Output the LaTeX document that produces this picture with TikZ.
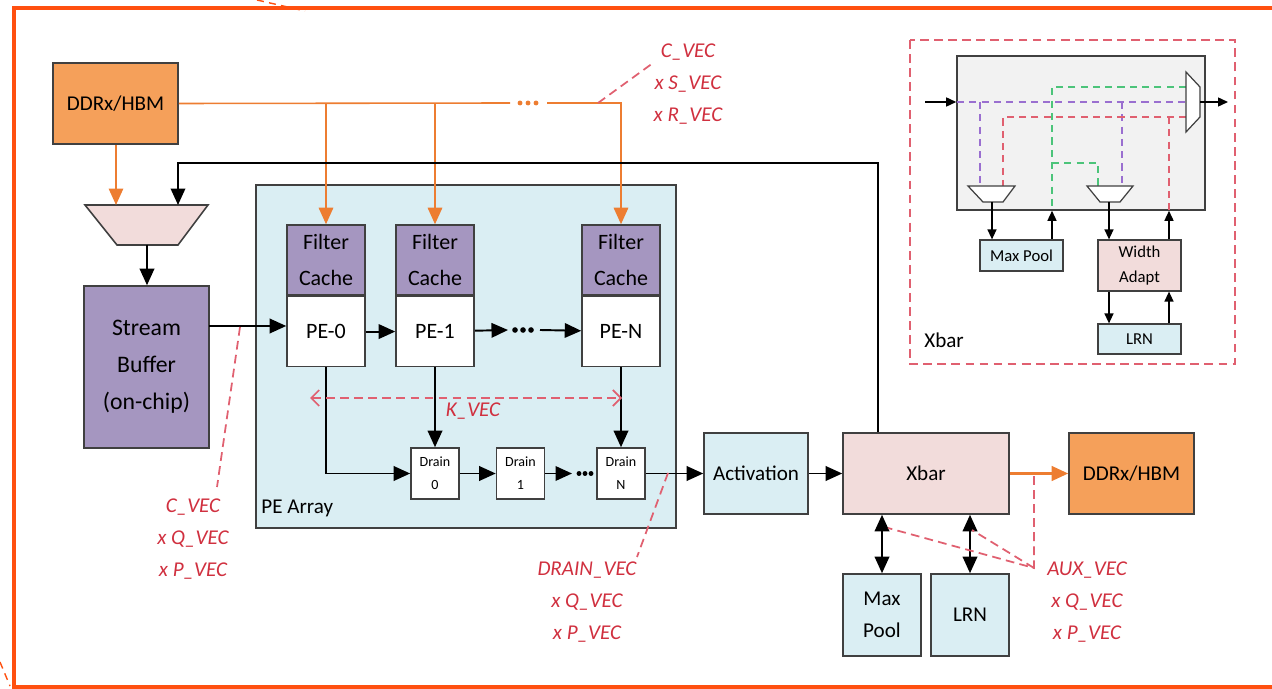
\documentclass[tikz,border=0pt]{standalone}
\usepackage{fontspec}
\setmainfont{Carlito}
\usetikzlibrary{arrows.meta,positioning}
\definecolor{memfill}{HTML}{F5A05A}
\definecolor{memline}{HTML}{ED7D31}
\definecolor{cachefill}{HTML}{A596C0}
\definecolor{funcfill}{HTML}{DAEEF3}
\definecolor{xbarfill}{HTML}{F2DCDB}
\definecolor{corefill}{HTML}{F2F2F2}
\definecolor{boxline}{HTML}{404040}
\definecolor{vecred}{HTML}{E06070}
\definecolor{vectext}{HTML}{D0303F}
\definecolor{framecol}{HTML}{FF5010}
\definecolor{pathviolet}{HTML}{9A6FD0}
\definecolor{pathgreen}{HTML}{4CC47A}
\tikzset{
  box/.style={draw=boxline, line width=0.9pt, inner sep=0pt, align=center},
  memblk/.style={box, fill=memfill, minimum width=2.5cm, minimum height=1.62cm, font=\fontsize{12}{14}\selectfont},
  bufblk/.style={box, fill=cachefill, minimum width=2.5cm, minimum height=3.24cm, font=\fontsize{13.5}{21}\selectfont},
  cacheblk/.style={box, fill=cachefill, minimum width=1.56cm, minimum height=1.4cm, font=\fontsize{12.5}{20}\selectfont},
  peblk/.style={box, fill=white, minimum width=1.56cm, minimum height=1.4cm, font=\fontsize{12.5}{15}\selectfont},
  drainblk/.style={box, fill=white, minimum width=0.96cm, minimum height=1.02cm, font=\fontsize{8}{13}\selectfont},
  funcblk/.style={box, fill=funcfill, minimum width=1.56cm, minimum height=1.64cm, font=\fontsize{12}{18}\selectfont},
  xbarblk/.style={box, fill=xbarfill, minimum width=3.32cm, minimum height=1.62cm, font=\fontsize{12}{14}\selectfont},
  minblk/.style={box, line width=0.7pt, minimum width=1.66cm, font=\fontsize{9.5}{14}\selectfont},
  flow/.style={-{Triangle[length=3.3mm,width=2.9mm]}, line width=1.1pt, draw=black},
  bothflow/.style={{Triangle[length=3.3mm,width=2.9mm]}-{Triangle[length=3.3mm,width=2.9mm]}, line width=1.1pt, draw=black},
  memflow/.style={-{Triangle[length=3.3mm,width=2.9mm]}, line width=0.9pt, draw=memline},
  smallflow/.style={-{Triangle[length=2mm,width=1.8mm]}, line width=0.8pt, draw=black},
  vecline/.style={draw=vecred, line width=1pt, dash pattern=on 5pt off 3pt},
  vecnote/.style={text=vectext, font=\itshape\fontsize{12}{18}\selectfont, align=center, inner sep=0pt},
  dotmark/.style={circle, fill, inner sep=0pt, minimum size=3.2pt}
}

\begin{document}
\begin{tikzpicture}[x=0.02cm, y=-0.02cm]
  \useasboundingbox (0,0) rectangle (1272,689);

  % outer frame
  \draw[framecol, line width=2.4pt] (1280,8) -- (14,8) -- (14,687) -- (1280,687);
  \draw[framecol, line width=0.8pt, dash pattern=on 4pt off 3pt] (257,0) -- (305,11);
  \draw[framecol, line width=0.8pt, dash pattern=on 4pt off 3pt] (0,662) -- (10,686);

  % memory, mux, stream buffer
  \node[memblk] (ddrin) at (115.5,103.5) {DDRx/HBM};
  \draw[box, fill=xbarfill] (85,205) -- (208,205) -- (178,245) -- (117,245) -- cycle;
  \coordinate (muxa) at (116,205);
  \coordinate (muxb) at (178,205);
  \coordinate (muxo) at (147,245);
  \node[bufblk] (sbuf) at (146.5,367) {Stream\\Buffer\\(on-chip)};

  % PE array
  \node[box, fill=funcfill, minimum width=8.4cm, minimum height=6.86cm] (pearray) at (466,356.5) {};
  \node[anchor=west, inner sep=0pt, font=\fontsize{12}{14}\selectfont] (pelabel) at (261,508) {PE Array};

  \node[cacheblk] (filter0) at (326,260) {Filter\\Cache};
  \node[peblk, below=0pt of filter0] (pe0) {PE-0};
  \node[cacheblk] (filter1) at (435,260) {Filter\\Cache};
  \node[peblk, below=0pt of filter1] (pe1) {PE-1};
  \node[cacheblk] (filtern) at (621,260) {Filter\\Cache};
  \node[peblk, below=0pt of filtern] (pen) {PE-N};

  \node[drainblk] (drain0) at (435,473.5) {Drain\\0};
  \node[drainblk] (drain1) at (520.5,473.5) {Drain\\1};
  \node[drainblk] (drainn) at (621,473.5) {Drain\\N};

  % back end
  \node[funcblk, minimum width=2.08cm, minimum height=1.62cm] (act) at (756,473.5) {Activation};
  \node[xbarblk] (xbar) at (926,473.5) {Xbar};
  \node[memblk] (ddrout) at (1131.5,473.5) {DDRx/HBM};
  \node[funcblk] (maxpool) at (882,615) {Max\\Pool};
  \node[funcblk] (lrn) at (970,615) {LRN};

  % filter distribution
  \coordinate (fdots) at (510,103);
  \coordinate (fresume) at (547,103);
  \draw[memline, line width=0.9pt] (ddrin.east) -- (fdots);
  \foreach \dx in {520,528,536}
    \node[dotmark, memline, minimum size=2.8pt] at (\dx,103) {};
  \draw[memflow] (fresume) -| (filtern.north);
  \draw[memflow] (filter0.north |- ddrin.east) -- (filter0.north);
  \draw[memflow] (filter1.north |- ddrin.east) -- (filter1.north);
  \draw[memflow] (ddrin.south -| muxa) -- (muxa);

  % feedback from xbar
  \coordinate (fb) at (878,163);
  \draw[flow] (xbar.north -| fb) -- (fb) -| (muxb);
  \draw[flow] (muxo) -- (sbuf.north -| muxo);

  % PE chain
  \coordinate (pedots) at (508,330);
  \coordinate (peresume) at (540,330);
  \coordinate (sbout) at (209,326);
  \draw[flow] (sbout) -- (pe0.west |- sbout);
  \draw[flow] (pe0) -- (pe1);
  \draw[flow] (pe1) -- (pedots);
  \foreach \dx in {515,523,531}
    \node[dotmark] at (\dx,330) {};
  \draw[flow] (peresume) -- (pen);

  \draw[flow] (pe0.south) |- (drain0.west);
  \draw[flow] (pe1.south) -- (drain0.north);
  \draw[flow] (pen.south) -- (drainn.north);

  \coordinate (drdots) at (572,473.5);
  \draw[flow] (drain0) -- (drain1);
  \draw[flow] (drain1) -- (drdots);
  \foreach \dx in {579,585,591}
    \node[dotmark, minimum size=2.8pt] at (\dx,473.5) {};
  \draw[flow] (drainn) -- (act);
  \draw[flow] (act) -- (xbar);
  \draw[memflow, line width=1.5pt] (xbar) -- (ddrout);
  \draw[bothflow] (xbar.south -| maxpool) -- (maxpool);
  \draw[bothflow] (xbar.south -| lrn) -- (lrn);

  % vector annotations
  \draw[vecline, {Straight Barb[length=1.6mm]}-{Straight Barb[length=1.6mm]}] (310,398) -- (622,398);
  \node[vecnote] (kvec) at (473,411) {K\_VEC};

  \node[vecnote] (topvec) at (688,84) {C\_VEC\\x S\_VEC\\x R\_VEC};
  \coordinate (ctap) at (598,103);
  \coordinate (cend) at (653,63);
  \draw[vecline] (ctap) -- (cend);

  \node[vecnote] (leftvec) at (193,539) {C\_VEC\\x Q\_VEC\\x P\_VEC};
  \coordinate (ltap) at (240,327);
  \coordinate (lend) at (217,487);
  \draw[vecline] (ltap) -- (lend);

  \node[vecnote] (drainvec) at (587,602) {DRAIN\_VEC\\x Q\_VEC\\x P\_VEC};
  \coordinate (dtap) at (668,473);
  \coordinate (dend) at (637,557);
  \draw[vecline] (dtap) -- (dend);

  \node[vecnote] (auxvec) at (1087,602) {AUX\_VEC\\x Q\_VEC\\x P\_VEC};
  \coordinate (atap) at (1034,476);
  \coordinate (aend) at (1034,568);
  \draw[vecline] (atap) -- (aend) -- (888,528);
  \draw[vecline] (aend) -- (972,530);

  % xbar detail inset
  \draw[vecline] (910,40) rectangle (1235,364);
  \node[box, fill=corefill, minimum width=4.96cm, minimum height=3.08cm] (xcore) at (1081,133) {};
  \node[anchor=west, inner sep=0pt, font=\fontsize{12}{14}\selectfont] (xlabel) at (924,340) {Xbar};

  \draw[pathviolet, line width=0.9pt, dash pattern=on 4pt off 3pt] (957,102) -- (1186,102);
  \draw[pathviolet, line width=0.9pt, dash pattern=on 4pt off 3pt] (980,102) -- (980,186);
  \draw[pathviolet, line width=0.9pt, dash pattern=on 4pt off 3pt] (1122,102) -- (1122,186);
  \draw[vecred, line width=0.9pt, dash pattern=on 4pt off 3pt] (1186,117) -- (1003,117) -- (1003,186);
  \draw[vecred, line width=0.9pt, dash pattern=on 4pt off 3pt] (1169,117) -- (1169,210);
  \draw[pathgreen, line width=0.9pt, dash pattern=on 4pt off 3pt] (1186,87) -- (1052,87) -- (1052,210);
  \draw[pathgreen, line width=0.9pt, dash pattern=on 4pt off 3pt] (1052,163) -- (1098,163) -- (1098,186);

  \draw[box, fill=white, line width=0.7pt] (1186,72) -- (1200,87) -- (1200,117) -- (1186,132) -- cycle;
  \draw[box, fill=white, line width=0.7pt] (968,186) -- (1015,186) -- (1003,202) -- (983,202) -- cycle;
  \draw[box, fill=white, line width=0.7pt] (1087,186) -- (1133,186) -- (1120,202) -- (1100,202) -- cycle;

  \node[minblk, fill=funcfill, minimum height=0.62cm] (mpsmall) at (1021.5,255.5) {Max Pool};
  \node[minblk, fill=xbarfill, minimum height=1.02cm] (wadapt) at (1139.5,265.5) {Width\\Adapt};
  \node[minblk, fill=funcfill, minimum height=0.6cm] (lrnsmall) at (1139.5,339) {LRN};

  \coordinate (xin) at (925,102);
  \coordinate (xout) at (1228,102);
  \coordinate (mux1o) at (992,202);
  \coordinate (mux2o) at (1109,202);
  \draw[smallflow] (xin) -- (xcore.west |- xin);
  \draw[smallflow] (1200,102) -- (xout);
  \draw[smallflow] (mux1o) -- (mux1o |- mpsmall.north);
  \draw[smallflow] (1052,0 |- mpsmall.north) -- (1052,0 |- xcore.south);
  \draw[smallflow] (mux2o) -- (mux2o |- wadapt.north);
  \draw[smallflow] (1169,0 |- wadapt.north) -- (1169,0 |- xcore.south);
  \draw[smallflow] (1109,0 |- wadapt.south) -- (1109,0 |- lrnsmall.north);
  \draw[smallflow] (1169,0 |- lrnsmall.north) -- (1169,0 |- wadapt.south);
\end{tikzpicture}
\end{document}
